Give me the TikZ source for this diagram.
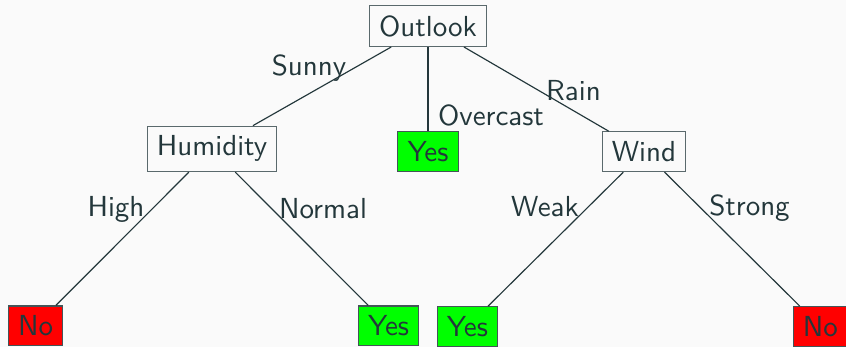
\documentclass[tikz,border=0pt]{standalone}
\usepackage{xcolor}
\usepackage{tikz}
\usetikzlibrary{positioning}

\definecolor{mDarkTeal}{HTML}{23373B}
\definecolor{mBg}{HTML}{FAFAFA}

\begin{document}
\begin{tikzpicture}
		[x=0.345pt,y=-0.345pt,font=\sffamily,
		every node/.style={text=mDarkTeal},
		attr/.style={draw=mDarkTeal!75,fill=mBg},
		yes/.style={draw=mDarkTeal!85,fill=green},
		no/.style={draw=mDarkTeal!85,fill=red},
		lbl/.style={anchor=base},
		every child node/.style={anchor=south},
		edge from parent/.style={draw=mDarkTeal},
		level 1/.style={sibling distance=74.5pt,level distance=50.4pt},
		level 2/.style={sibling distance=121.8pt,level distance=67.4pt},
		grow=down]
		\fill[mBg] (0,0) rectangle (846,347);
		\useasboundingbox (0,0) rectangle (846,347);
		\node[attr,anchor=south] (outlook) at (428,47) {Outlook}
		child {
			node[attr] (humidity) {Humidity}
			child[level distance=68.1pt] {
				node[no] (no1) {No}
			}
			child[level distance=68.1pt] {
				node[yes] (yes1) {Yes}
			}
		}
		child {
			node[yes] (yes0) {Yes}
		}
		child {
			node[attr] (wind) {Wind}
			child {
				node[yes] (yes2) {Yes}
			}
			child {
				node[no] (no2) {No}
			}
		};
		% labels of the branches
		\node[lbl] (sunny) at (309,75) {Sunny};
		\node[lbl] (overcast) at (491,125) {Overcast};
		\node[lbl] (rain) at (573.5,100) {Rain};
		\node[lbl] (high) at (116,216) {High};
		\node[lbl] (normal) at (323,218) {Normal};
		\node[lbl] (weak) at (545,216) {Weak};
		\node[lbl] (strong) at (749.5,215) {Strong};
		\end{tikzpicture}
\end{document}
